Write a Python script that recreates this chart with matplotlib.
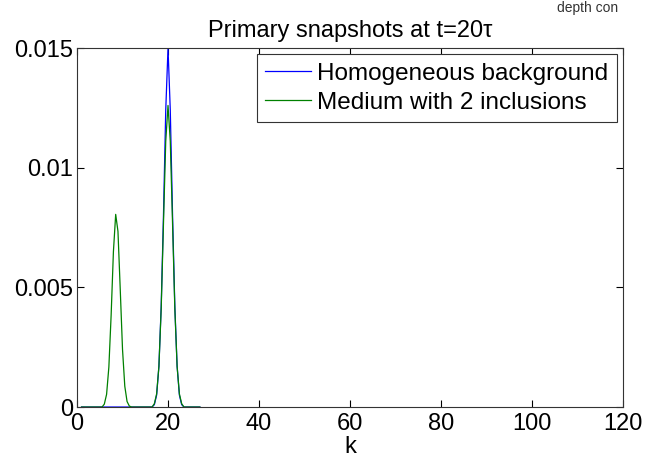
import numpy as np
import matplotlib
matplotlib.use("Agg")
import matplotlib.pyplot as plt

plt.rcParams['font.family'] = ['Liberation Sans', 'DejaVu Sans']

# k samples (every half step between 1 and 27)
k = np.arange(1, 27.5, 0.5)

# homogeneous background: single pulse around k=20
homog = [0.0] * 32 + [
    0.0001, 0.0005, 0.0017, 0.0042, 0.0080, 0.0124, 0.0150,
    0.0124, 0.0080, 0.0042, 0.0017, 0.0005, 0.0001,
] + [0.0] * 8

# medium with 2 inclusions: reflected pulse near k=8.5 plus direct pulse at 20
incl = [0.0] * 10 + [
    0.00012, 0.00053, 0.00167, 0.00384, 0.00649, 0.00805, 0.00734,
    0.00492, 0.00241, 0.00087, 0.00023, 0.00004,
] + [0.0] * 10 + [
    0.00014, 0.00055, 0.0017, 0.0041, 0.00765, 0.0111, 0.0126,
    0.0111, 0.00765, 0.0041, 0.0017, 0.00055, 0.00014,
] + [0.0] * 8

fig = plt.figure(figsize=(6.45, 4.62), dpi=100)
ax = fig.add_axes([0.1194, 0.119, 0.8465, 0.777])

ax.plot(k, homog, color='#0000ff', lw=0.9, label='Homogeneous background')
ax.plot(k, incl, color='#008000', lw=0.9, label='Medium with 2 inclusions')

ax.set_xlim(0, 120)
ax.set_ylim(0, 0.015)
ax.set_xticks([0, 20, 40, 60, 80, 100, 120])
ax.set_yticks([0, 0.005, 0.01, 0.015])
ax.set_yticklabels(['0', '0.005', '0.01', '0.015'])
ax.tick_params(direction='in', labelsize=17, length=5, width=0.8,
               top=True, right=True)
ax.tick_params(axis='x', pad=4)
ax.tick_params(axis='y', pad=3)
for s in ax.spines.values():
    s.set_color('#333333')
ax.set_xlabel('k', fontsize=17, labelpad=1)
ax.set_title('Primary snapshots at t=20\u03c4', fontsize=17, pad=8)

leg = ax.legend(loc='upper right', fontsize=17.5, fancybox=False,
                edgecolor='#333333', framealpha=1, borderaxespad=0.25,
                handlelength=1.9, handletextpad=0.25, labelspacing=0.3,
                borderpad=0.35)
leg.get_frame().set_linewidth(0.8)

fig.text(0.864, 0.997, 'depth con', fontsize=10, color='#333333', va='top')

fig.savefig('out.png', dpi=100)
